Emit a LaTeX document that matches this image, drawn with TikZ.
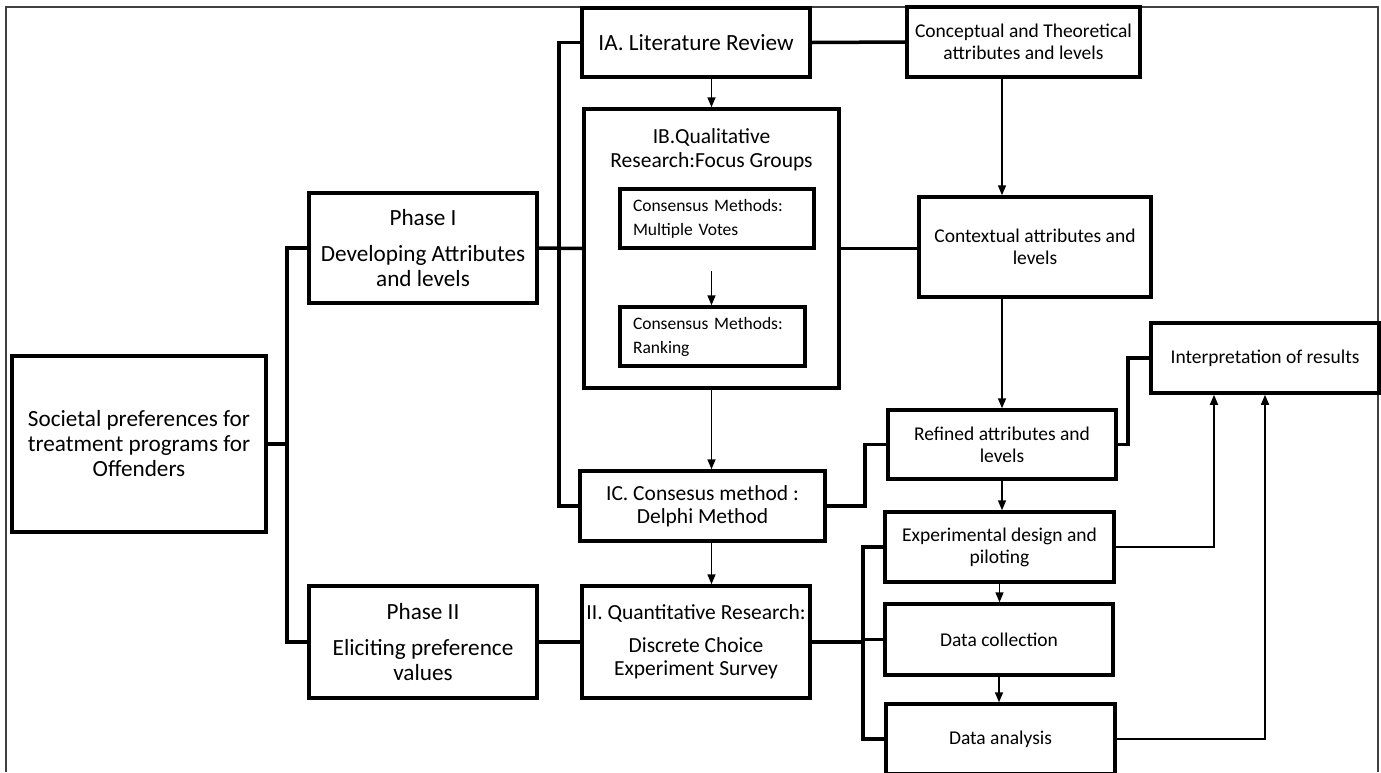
\documentclass[tikz,border=0pt]{standalone}
\usepackage{fontspec}
\setmainfont{Carlito}
\usetikzlibrary{arrows.meta,calc}

\begin{document}
\begin{tikzpicture}[x=1pt,y=-1pt,
	box/.style={draw,line width=3.5pt,align=center,inner sep=2pt},
	big/.style={font=\fontsize{23.2}{25}\selectfont},
	mid/.style={font=\fontsize{21.5}{23}\selectfont},
	med/.style={font=\fontsize{19.5}{22}\selectfont},
	sml/.style={font=\fontsize{17.5}{24}\selectfont,align=left,inner xsep=13pt},
	link/.style={line width=3.5pt},
	arr/.style={line width=1.6pt,-{Triangle[length=10pt,width=8pt]}}]

	\useasboundingbox (0,0) rectangle (1381,772);
	\clip (0,0) rectangle (1381,772);
	\draw[line width=1.3pt,black!75] (6,772) -- (6,7) -- (1378,7) -- (1378,772);

	% left side
	\node(soc) at (139,444)[box,big,minimum width=254pt,minimum height=176pt]{Societal preferences for\\treatment programs for\\Offenders};
	\node(ph1) at (423,248)[box,big,minimum width=228pt,minimum height=110pt]{Phase I\\[11pt]Developing Attributes\\and levels};
	\node(ph2) at (423,642)[box,big,minimum width=228pt,minimum height=112pt]{Phase II\\[11pt]Eliciting preference\\values};

	% middle column
	\node(IA) at (696,42.5)[box,big,minimum width=228pt,minimum height=69pt]{IA. Literature Review};
	\node(IB) at (711.5,248.5)[box,minimum width=255pt,minimum height=279pt]{};
	\node(IBt) at (711.5,150)[mid,align=center,font=\fontsize{21.5}{24}\selectfont]{IB.Qualitative\\Research:Focus Groups};
	\node(vot) at (717,218.5)[box,sml,text width=168pt,minimum width=194pt,minimum height=59pt]{Consensus Methods:\\Multiple Votes};
	\node(rnk) at (712.5,336.5)[box,sml,text width=159pt,minimum width=185pt,minimum height=59pt]{Consensus Methods:\\Ranking};
	\node(IC) at (702.5,506)[box,mid,minimum width=245pt,minimum height=70pt]{IC. Consesus method :\\Delphi Method};
	\node(II) at (696,642)[box,mid,minimum width=228pt,minimum height=112pt]{II. Quantitative Research:\\[10.5pt]Discrete Choice\\Experiment Survey};

	% right side
	\node(con) at (1023.5,42)[box,med,minimum width=233pt,minimum height=70pt]{Conceptual and Theoretical\\attributes and levels};
	\node(ctx) at (1035,247)[box,med,minimum width=232pt,minimum height=100pt]{Contextual attributes and\\levels};
	\node(ref) at (1002,444.5)[box,med,minimum width=228pt,minimum height=69pt]{Refined attributes and\\levels};
	\node(int) at (1265,358)[box,med,minimum width=228pt,minimum height=70pt]{Interpretation of results};
	\node(exp) at (999.5,547)[box,med,minimum width=229pt,minimum height=70pt]{Experimental design and\\piloting};
	\node(col) at (999,639.5)[box,med,minimum width=228pt,minimum height=71pt]{Data collection};
	\node(ana) at (1000.5,739)[box,med,minimum width=229pt,minimum height=70pt]{Data analysis};

	\coordinate (b1) at (287,0);
	\coordinate (b2) at (559,0);
	\coordinate (b3) at (865,0);
	\coordinate (b4) at (1128,0);
	\coordinate (b5) at (863,0);

	% thick brackets
	\draw[link] (soc.east) -- (soc.east -| b1);
	\draw[link] (ph1.west) -| (b1 |- soc.east) |- (ph2.west);
	\draw[link] (IA.west) -| (b2 |- ph1.east) |- (IC.west);
	\draw[link] (ph1.east) -- (IB.west);
	\draw[link] (IA.east) -- (con.west);
	\draw[link] (IB.east) -- (IB.east -| ctx.west);
	\draw[link] (IC.east) -| (b3 |- ref.west) -- (ref.west);
	\draw[link] (ref.east) -| (b4 |- int.west) -- (int.west);
	\draw[link] (ph2.east) -- (II.west);
	\draw[link] (II.east) -- (II.east -| b5);
	\draw[link] (exp.west) -| (b5 |- col.west) |- (ana.west);
	\draw[link] (col.west) -- (col.west -| b5);

	% arrows
	\draw[arr] (IA.south -| IB.north) -- (IB.north);
	\draw[arr] ($(vot.south -| IB.south)+(0,21)$) -- (rnk.north -| IB.south);
	\draw[arr] (IB.south) -- (IB.south |- IC.north);
	\draw[arr] (IC.south -| IB.south) -- (IB.south |- II.north);
	\draw[arr] (con.south -| ref.north) -- (ctx.north -| ref.north);
	\draw[arr] (ctx.south -| ref.north) -- (ref.north);
	\draw[arr] (ref.south) -- (ref.south |- exp.north);
	\draw[arr] (exp.south) -- (exp.south |- col.north);
	\draw[arr] (col.south) -- (col.south |- ana.north);
	\draw[arr] (exp.east) -| ([xshift=-51pt]int.south);
	\draw[arr] (ana.east) -| (int.south);

\end{tikzpicture}
\end{document}
